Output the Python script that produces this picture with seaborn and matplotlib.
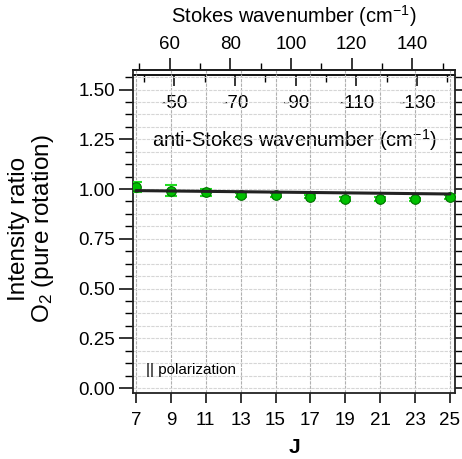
import numpy as np
import pandas as pd
import matplotlib
matplotlib.use("Agg")
import matplotlib.pyplot as plt
import seaborn as sns
from matplotlib.ticker import MultipleLocator, FixedLocator

# ---------------- data ----------------
J_values = [7, 9, 11, 13, 15, 17, 19, 21, 23, 25]
ratio_values = [1.012, 0.991, 0.983, 0.970, 0.968, 0.961, 0.950, 0.950, 0.948, 0.958]
ratio_errors = [0.025, 0.027, 0.018, 0.010, 0.010, 0.008, 0.008, 0.008, 0.008, 0.010]
fit_J = [7, 25]
fit_values = [0.992, 0.975]
x_ticks = [7, 9, 11, 13, 15, 17, 19, 21, 23, 25]
y_ticks = [0.00, 0.25, 0.50, 0.75, 1.00, 1.25, 1.50]
stokes_ticks = [60, 80, 100, 120, 140]
stokes_minor = [50, 70, 90, 110, 130, 150]
anti_ticks = [-50, -70, -90, -110, -130]
anti_minor = [-40, -60, -80, -100, -120, -140]
B_O2 = 1.4377  # rotational constant (cm^-1)

df = pd.DataFrame({"J": J_values, "ratio": ratio_values, "err": ratio_errors})
fit_df = pd.DataFrame({"J": fit_J, "ratio": fit_values})

# ---------------- style ----------------
sns.set_style("ticks")
plt.rcParams["font.family"] = ["Liberation Sans", "DejaVu Sans"]
plt.rcParams["mathtext.fontset"] = "custom"
plt.rcParams["mathtext.rm"] = "Liberation Sans"
plt.rcParams["mathtext.it"] = "Liberation Sans:italic"
plt.rcParams["axes.unicode_minus"] = False
for k in ["text.color", "axes.labelcolor", "xtick.color", "ytick.color",
          "axes.edgecolor"]:
    plt.rcParams[k] = "black"

W, H = 462, 459
fig = plt.figure(figsize=(W / 100, H / 100), dpi=100)
L, R, T, Bm = 133, 455, 70, 393
ax = fig.add_axes([L / W, 1 - Bm / H, (R - L) / W, (Bm - T) / H])

# grid
ax.set_axisbelow(True)
ax.yaxis.set_minor_locator(MultipleLocator(0.0625))
ax.grid(which="both", axis="y", color="#d6d6d6", linestyle=(0, (3, 1)), linewidth=0.8)
ax.grid(which="major", axis="x", color="#b0b0b0", linestyle=(0, (3, 1)), linewidth=0.8)

# error bars + points + fit
ax.errorbar(df["J"], df["ratio"], yerr=df["err"], fmt="none", ecolor="#22dd22",
            elinewidth=1.5, capsize=4, capthick=1.5, zorder=3)
sns.scatterplot(data=df, x="J", y="ratio", ax=ax, s=48, color="#00c000",
                edgecolor="#007000", linewidth=0.8, zorder=4, legend=False)
sns.lineplot(data=fit_df, x="J", y="ratio", ax=ax, color="#222222", linewidth=2.2,
             zorder=5, legend=False)

ax.set_xlim(6.83, 25.29)
ax.set_ylim(-0.025, 1.598)
ax.set_xticks(x_ticks)
ax.set_yticks(y_ticks)
ax.set_yticklabels([f"{v:.2f}" for v in y_ticks])

for s in ["left", "right", "bottom", "top"]:
    ax.spines[s].set_linewidth(1.3)
    ax.spines[s].set_color("#222222")

ax.tick_params(axis="x", which="major", direction="out", length=7, width=1.1,
               labelsize=13.5, pad=7, top=False)
ax.tick_params(axis="y", which="major", direction="out", length=10, width=1.1,
               labelsize=13.5, pad=3, right=True, labelright=False)
ax.tick_params(axis="y", which="minor", direction="out", length=6, width=1.0,
               right=True)

ax.set_xlabel("J", fontsize=15, fontweight="bold", labelpad=6)
ax.set_ylabel("")
fig.text(32 / W, 1 - 229 / H, "Intensity ratio\nO$_2$ (pure rotation)",
         rotation=90, ha="center", va="center", fontsize=17.5, linespacing=1.05)

ax.text(0.04, 0.07, "|| polarization", transform=ax.transAxes, fontsize=11,
        ha="left", va="center")

# ---------------- secondary axes ----------------
def j2s(j):
    return B_O2 * (4 * np.asarray(j, dtype=float) + 6)

def s2j(s):
    return np.asarray(s, dtype=float) / (4 * B_O2) - 1.5

def j2a(j):
    return -B_O2 * (4 * np.asarray(j, dtype=float) - 2)

def a2j(a):
    return -np.asarray(a, dtype=float) / (4 * B_O2) + 0.5

sec_top = ax.secondary_xaxis("top", functions=(j2s, s2j))
sec_top.set_xticks(stokes_ticks)
sec_top.xaxis.set_minor_locator(FixedLocator(stokes_minor))
sec_top.tick_params(axis="x", which="major", direction="out", length=9, width=1.1,
                    labelsize=13.5, pad=3)
sec_top.tick_params(axis="x", which="minor", direction="out", length=5, width=1.0)
sec_top.set_xlabel("Stokes wavenumber (cm$^{-1}$)", fontsize=14.5, labelpad=10)
sec_top.spines["top"].set_linewidth(1.3)

as_loc = 1 - 5.5 / (Bm - T)
sec_as = ax.secondary_xaxis(as_loc, functions=(j2a, a2j))
sec_as.set_alignment("bottom")
sec_as.set_xticks(anti_ticks)
sec_as.xaxis.set_minor_locator(FixedLocator(anti_minor))
sec_as.tick_params(axis="x", which="major", direction="out", length=8, width=1.1,
                   labelsize=13.5, pad=6)
sec_as.tick_params(axis="x", which="minor", direction="out", length=5, width=1.0)
sec_as.set_xlabel("anti-Stokes wavenumber (cm$^{-1}$)", fontsize=14.5, labelpad=11)
sec_as.spines["bottom"].set_linewidth(1.3)

fig.savefig("out.png", dpi=100)
